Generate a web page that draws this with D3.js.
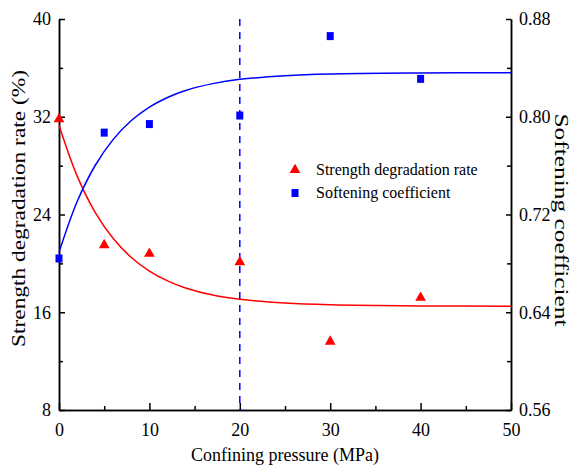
<!DOCTYPE html>
<html>
<head>
<meta charset="utf-8">
<script src="https://cdn.jsdelivr.net/npm/d3@7"></script>
<style>
  body { margin: 0; background: #fff; }
  svg text { font-family: "Times New Roman", "Liberation Serif", "DejaVu Serif", serif; fill: #000; }
</style>
</head>
<body>
<div id="chart"></div>
<script>
// measured points
let pressure = [0, 5, 10, 20, 30, 40];
let degradation = [31.8, 21.5, 20.8, 20.1, 13.6, 17.2];
let softening = [0.684, 0.787, 0.794, 0.801, 0.866, 0.831];

// fitted curves
let fitX = [0, 2, 4, 6, 8, 10, 12, 14, 17, 20, 25, 30, 40, 50];
let fitDegradation = [31.3, 27.16, 24.18, 22.03, 20.48, 19.37, 18.57, 17.99, 17.41, 17.06, 16.75, 16.61, 16.52, 16.5];
let fitSoftening = [0.689, 0.7304, 0.7601, 0.7815, 0.7969, 0.8079, 0.8158, 0.8215, 0.8271, 0.8306, 0.8336, 0.835, 0.8358, 0.836];

let xTicks = [0, 10, 20, 30, 40, 50];
let xMinor = [5, 15, 25, 35, 45];
let yLeftTicks = [8, 16, 24, 32, 40];
let yLeftMinor = [12, 20, 28, 36];
let yRightTicks = [0.56, 0.64, 0.72, 0.80, 0.88];
let yRightMinor = [0.60, 0.68, 0.76, 0.84];
let markerLine = 20;

let serif = "'Times New Roman', 'Liberation Serif', 'DejaVu Serif', serif";

let W = 570, H = 468;
let margin = { top: 19, right: 59, bottom: 58, left: 59 };
let width = W - margin.left - margin.right,
  height = H - margin.top - margin.bottom;

let svg = d3.select("#chart").append("svg")
  .attr("width", W)
  .attr("height", H);

let g = svg.append("g")
  .attr("transform", "translate(" + margin.left + "," + margin.top + ")");

let x = d3.scaleLinear().domain([0, 50]).range([0, width]);
let yL = d3.scaleLinear().domain([8, 40]).range([height, 0]);
let yR = d3.scaleLinear().domain([0.56, 0.88]).range([height, 0]);

function styleAxis(sel) {
  sel.attr("font-family", serif);
  sel.selectAll("path, line").attr("stroke", "#000").attr("stroke-width", 1.5);
  sel.selectAll("text").style("font-size", "18px").style("font-family", serif);
}

// minor ticks
g.append("g").attr("transform", "translate(0," + height + ")")
  .call(d3.axisBottom(x).tickValues(xMinor).tickSize(-4).tickFormat("").tickSizeOuter(0))
  .call(styleAxis);
g.append("g")
  .call(d3.axisLeft(yL).tickValues(yLeftMinor).tickSize(-4).tickFormat("").tickSizeOuter(0))
  .call(styleAxis);
g.append("g").attr("transform", "translate(" + width + ",0)")
  .call(d3.axisRight(yR).tickValues(yRightMinor).tickSize(-4).tickFormat("").tickSizeOuter(0))
  .call(styleAxis);

// major ticks
g.append("g").attr("transform", "translate(0," + height + ")")
  .call(d3.axisBottom(x).tickValues(xTicks).tickSize(-7).tickPadding(13).tickSizeOuter(0))
  .call(styleAxis);
g.append("g")
  .call(d3.axisLeft(yL).tickValues(yLeftTicks).tickSize(-6).tickPadding(8).tickSizeOuter(0))
  .call(styleAxis);
g.append("g").attr("transform", "translate(" + width + ",0)")
  .call(d3.axisRight(yR).tickValues(yRightTicks).tickSize(-5).tickPadding(8)
    .tickFormat(d3.format(".2f")).tickSizeOuter(0))
  .call(styleAxis);

// dashed line at 20 MPa
g.append("line")
  .attr("x1", x(markerLine)).attr("x2", x(markerLine))
  .attr("y1", 0).attr("y2", height)
  .attr("stroke", "#0000ff").attr("stroke-width", 1.5)
  .attr("stroke-dasharray", "7,6");

// fitted curves
let lineL = d3.line().x((d, i) => x(fitX[i])).y(d => yL(d)).curve(d3.curveCatmullRom);
let lineR = d3.line().x((d, i) => x(fitX[i])).y(d => yR(d)).curve(d3.curveCatmullRom);

g.append("path").datum(fitDegradation)
  .attr("d", lineL).attr("fill", "none")
  .attr("stroke", "#ff0000").attr("stroke-width", 1.5);
g.append("path").datum(fitSoftening)
  .attr("d", lineR).attr("fill", "none")
  .attr("stroke", "#0000ff").attr("stroke-width", 1.5);

// markers
let tri = d3.symbol().type(d3.symbolTriangle).size(50);
g.selectAll(".tri").data(degradation).enter().append("path")
  .attr("class", "tri")
  .attr("d", tri)
  .attr("transform", (d, i) => "translate(" + x(pressure[i]) + "," + yL(d) + ")")
  .attr("fill", "#ff0000");

g.selectAll(".sq").data(softening).enter().append("rect")
  .attr("class", "sq")
  .attr("x", (d, i) => x(pressure[i]) - 3.5)
  .attr("y", d => yR(d) - 4)
  .attr("width", 7).attr("height", 8)
  .attr("fill", "#0000ff");

// legend
let legend = svg.append("g").attr("transform", "translate(295,170)");
legend.append("path").attr("d", tri).attr("fill", "#ff0000");
legend.append("text").attr("x", 21).attr("y", 5)
  .style("font-size", "16px").text("Strength degradation rate");
legend.append("rect").attr("x", -3.5).attr("y", 19).attr("width", 7).attr("height", 8)
  .attr("fill", "#0000ff");
legend.append("text").attr("x", 21).attr("y", 28)
  .style("font-size", "16px").text("Softening coefficient");

// axis titles
svg.append("text")
  .attr("x", margin.left + width / 2).attr("y", 461)
  .attr("text-anchor", "middle")
  .style("font-size", "18px")
  .text("Confining pressure (MPa)");

svg.append("text")
  .attr("transform", "translate(25,208.5) rotate(-90)")
  .attr("text-anchor", "middle")
  .attr("textLength", 277)
  .attr("lengthAdjust", "spacingAndGlyphs")
  .style("font-size", "18px")
  .text("Strength degradation rate (%)");

svg.append("text")
  .attr("transform", "translate(555,220) rotate(90)")
  .attr("text-anchor", "middle")
  .attr("textLength", 213)
  .attr("lengthAdjust", "spacingAndGlyphs")
  .style("font-size", "18px")
  .text("Softening coefficient");
</script>
</body>
</html>
